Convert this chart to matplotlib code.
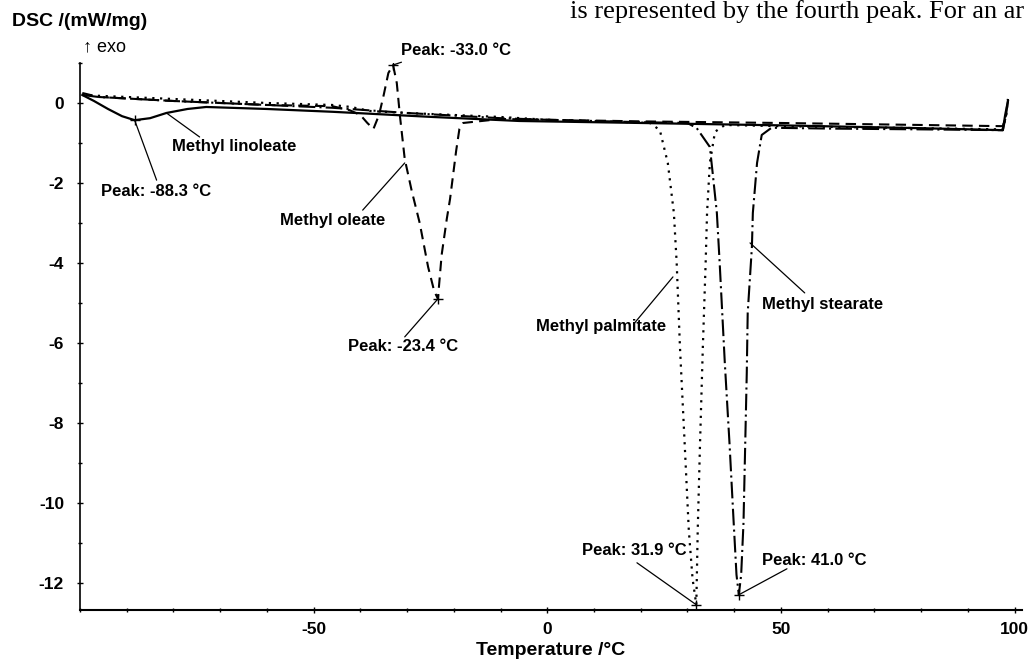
import matplotlib
matplotlib.use("Agg")
import matplotlib.pyplot as plt
from matplotlib.ticker import MultipleLocator, FixedLocator

plt.rcParams['font.family'] = ['Liberation Sans', 'DejaVu Sans']
plt.rcParams['axes.unicode_minus'] = False

# DSC curves (temperature in degC, DSC in mW/mg)
linoleate_T = [-99.5, -97, -94, -91, -88.3, -85, -81.5, -77, -73, -60, -46, -24.5, -6, 20, 50, 80, 97.5, 98.0, 98.6]
linoleate_v = [0.2, 0.05, -0.15, -0.33, -0.43, -0.38, -0.25, -0.15, -0.1, -0.15, -0.22, -0.35, -0.45, -0.5, -0.56, -0.63, -0.68, -0.3, 0.05]

oleate_T = [-99.5, -96, -80, -60, -46, -42.3, -40, -38.5, -37.2, -36, -35, -34, -33.0, -32.2, -31.5,
            -30.5, -29, -27.3, -25.5, -24.2, -23.4, -22.6, -21.5, -20.8, -19.5, -18.8, -18, -10, 0, 20,
            50, 80, 97.5, 98.2, 98.6]
oleate_v = [0.25, 0.15, 0.05, -0.05, -0.08, -0.18, -0.3, -0.5, -0.65, -0.3, 0.2, 0.75, 0.95, 0.5, -0.35,
            -1.4, -2.2, -3.0, -4.1, -4.7, -4.9, -3.8, -2.9, -2.4, -1.2, -0.65, -0.5, -0.4, -0.42, -0.46,
            -0.5, -0.55, -0.58, -0.3, 0.1]

palmitate_T = [-99.5, -96, -80, -60, -46, -42, -38, -30, -10, 0, 15, 22, 24.1, 25.8, 27.1, 27.7, 28.4,
               29.4, 30.3, 31.1, 31.9, 32.2, 32.7, 33.3, 33.9, 34.2, 34.8, 35.9, 38, 50, 80, 97.5, 98.2, 98.6]
palmitate_v = [0.2, 0.18, 0.1, 0.0, -0.05, -0.1, -0.2, -0.25, -0.35, -0.42, -0.47, -0.5, -0.68, -1.5,
               -2.75, -4.0, -6.1, -8.5, -10.7, -11.9, -12.55, -10.7, -8.5, -6.1, -4.0, -2.75, -1.5, -0.72,
               -0.55, -0.58, -0.63, -0.66, -0.3, 0.1]

stearate_T = [-99.5, -96, -80, -60, -46, -30, -10, 0, 20, 30, 32.0, 34.8, 35.4, 36.3, 36.9, 38.0, 39.0,
              39.9, 40.5, 41.0, 41.5, 42.0, 42.7, 42.9, 43.8, 44.0, 44.9, 45.9, 48, 60, 80, 97.5, 98.2, 98.6]
stearate_v = [0.2, 0.15, 0.05, -0.05, -0.12, -0.25, -0.38, -0.42, -0.48, -0.5, -0.63, -1.1, -1.75, -2.75,
              -4.0, -6.5, -8.5, -10.5, -11.8, -12.3, -11.8, -10.5, -6.75, -5.25, -3.6, -2.75, -1.5, -0.8,
              -0.62, -0.64, -0.66, -0.68, -0.3, 0.05]

peak_T = [-88.3, -33.0, -23.4, 31.9, 41.0]
peak_v = [-0.43, 0.95, -4.9, -12.55, -12.3]

x_ticks = [-50, 0, 50, 100]

fig = plt.figure(figsize=(10.32, 6.59), dpi=100)
ax = fig.add_axes([0.0775, 0.0744, 0.9128, 0.830])

ax.plot(linoleate_T, linoleate_v, color='black', lw=1.6, ls='-')
ax.plot(oleate_T, oleate_v, color='black', lw=1.5, ls=(0, (5, 3)))
ax.plot(palmitate_T, palmitate_v, color='black', lw=1.6, ls=(0, (1, 2.5)))
ax.plot(stearate_T, stearate_v, color='black', lw=1.5, ls=(0, (8, 2, 1, 2)))
ax.plot(peak_T, peak_v, ls='none', marker='+', ms=7, mew=1.0, color='black')

# labels: text, text position, leader line start, leader line end
labels = [
    ("Peak: -33.0 °C", (-31.3, 1.32), (-31.2, 1.02), (-33.0, 0.95)),
    ("Methyl linoleate", (-80.2, -1.1), (-74.4, -0.85), (-81.5, -0.25)),
    ("Peak: -88.3 °C", (-95.4, -2.22), (-83.6, -1.93), (-88.3, -0.43)),
    ("Methyl oleate", (-57.3, -2.95), (-39.5, -2.68), (-30.5, -1.5)),
    ("Peak: -23.4 °C", (-42.7, -6.1), (-30.5, -5.85), (-23.4, -4.9)),
    ("Methyl palmitate", (-2.5, -5.6), (18.7, -5.5), (26.9, -4.35)),
    ("Methyl stearate", (45.9, -5.05), (55.1, -4.75), (43.4, -3.5)),
    ("Peak: 31.9 °C", (7.4, -11.2), (19.2, -11.5), (31.9, -12.55)),
    ("Peak: 41.0 °C", (45.9, -11.45), (51.3, -11.65), (41.0, -12.3)),
]
for txt, pos, start, end in labels:
    ax.text(pos[0], pos[1], txt, fontsize=12, fontweight='bold', ha='left', va='center', clip_on=False)
    ax.annotate('', xy=end, xytext=start, annotation_clip=False,
                arrowprops=dict(arrowstyle='-', color='black', lw=0.9, shrinkA=0, shrinkB=0))

ax.set_xlim(-100, 101.6)
ax.set_ylim(-12.68, 1.0)
ax.xaxis.set_major_locator(FixedLocator(x_ticks))
ax.xaxis.set_minor_locator(MultipleLocator(10))
ax.yaxis.set_major_locator(MultipleLocator(2))
ax.yaxis.set_minor_locator(MultipleLocator(1))
ax.tick_params(which='both', direction='inout', width=1.0)
ax.tick_params(which='major', length=5, labelsize=12.5)
ax.tick_params(axis='x', pad=6)
ax.tick_params(axis='y', pad=9)
ax.tick_params(which='minor', length=3)
for lab in ax.get_xticklabels() + ax.get_yticklabels():
    lab.set_fontweight('bold')
ax.spines['top'].set_visible(False)
ax.spines['right'].set_visible(False)
ax.spines['left'].set_linewidth(1.2)
ax.spines['bottom'].set_linewidth(1.5)

ax.set_xlabel('Temperature /°C', fontsize=14, fontweight='bold', labelpad=4)
fig.text(12 / 1032, 1 - 22 / 659, 'DSC /(mW/mg)', fontsize=14, fontweight='bold', ha='left', va='center')
fig.text(83 / 1032, 1 - 47 / 659, '↑ exo', fontsize=13, ha='left', va='center')
fig.text(570 / 1032, 1 - 18 / 659, 'is represented by the fourth peak. For an ar',
         fontsize=19, family=['Liberation Serif', 'DejaVu Serif'], ha='left', va='baseline')

fig.savefig('out.png', dpi=100)
